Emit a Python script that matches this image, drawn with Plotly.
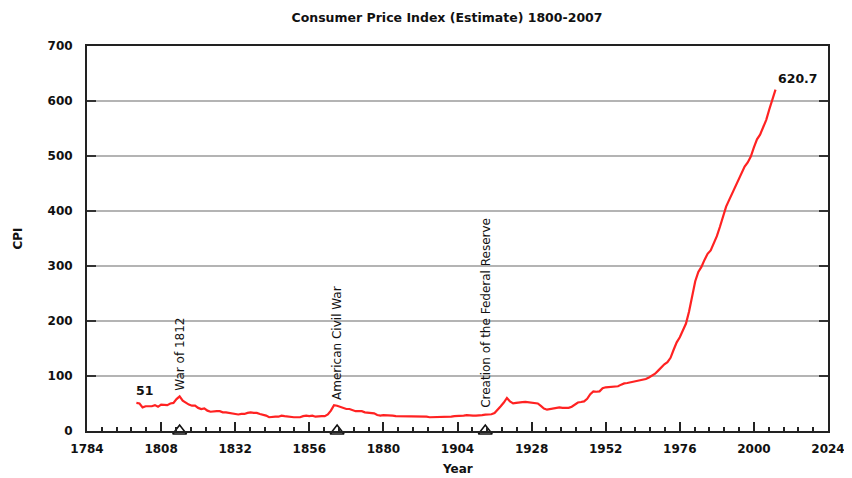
import plotly.graph_objects as go

years = list(range(1800, 2008))
cpi = [
    51, 50, 43, 45, 45, 45, 47, 44, 48, 47,
    47, 50, 51, 58, 63, 55, 51, 48, 46, 46,
    42, 40, 41, 37, 35, 36, 36, 36, 34, 34,
    33, 31, 31, 30, 31, 31, 33, 34, 33, 33,
    31, 30, 28, 25, 26, 26, 26, 28, 27, 26,
    25, 25, 25, 25, 27, 28, 27, 28, 26, 27,
    27, 27, 30, 37, 47, 46, 44, 42, 40, 40,
    38, 36, 36, 36, 34, 33, 32, 32, 29, 28,
    29, 29, 29, 28, 27, 27, 27, 27, 27, 27,
    27, 27, 27, 27, 26, 25, 25, 25, 25, 25,
    25, 25, 26, 27, 27, 27, 28, 29, 28, 28,
    28, 28, 29, 29.7, 30.1, 30.4, 32.7, 38.4, 45.1, 51.8,
    60.0, 53.6, 50.2, 51.1, 51.2, 52.5, 53.0, 52.0, 51.3, 51.3,
    50.0, 45.6, 40.9, 38.8, 40.1, 41.1, 41.5, 43.0, 42.2, 41.6,
    42.0, 44.1, 48.8, 51.8, 52.7, 53.9, 58.5, 66.9, 72.1, 71.4,
    72.1, 77.8, 79.5, 80.1, 80.5, 80.2, 81.4, 84.3, 86.6, 87.3,
    88.7, 89.6, 90.6, 91.7, 92.9, 94.5, 97.2, 100.0, 104.2, 109.8,
    116.3, 121.3, 125.3, 133.1, 147.7, 161.2, 170.5, 181.5, 195.4, 217.4,
    246.8, 272.4, 289.1, 298.4, 311.1, 322.2, 328.4, 340.4, 354.3, 371.3,
    391.4, 408.0, 420.3, 432.7, 444.0, 456.5, 469.9, 480.8, 488.3, 499.0,
    515.8, 530.4, 538.8, 551.1, 565.8, 585.0, 603.9, 620.7,
]

event_years = [1814, 1865, 1913]
event_labels = ["War of 1812", "American Civil War", "Creation of the Federal Reserve"]
event_label_base = [70, 53, 39]

x_ticks = list(range(1784, 2025, 24))
y_ticks = list(range(0, 701, 100))

FONT = "DejaVu Sans"

fig = go.Figure()
fig.add_trace(go.Scatter(
    x=years, y=cpi, mode="lines",
    line=dict(color="#ff2222", width=2.2),
    hoverinfo="x+y", showlegend=False,
))
fig.add_trace(go.Scatter(
    x=event_years, y=[0] * len(event_years), mode="markers",
    marker=dict(symbol="triangle-up-open", size=12, color="#111111",
                line=dict(width=1.6, color="#111111")),
    cliponaxis=False, showlegend=False, hoverinfo="skip",
))

for yr, lab, base in zip(event_years, event_labels, event_label_base):
    fig.add_annotation(
        x=yr, y=base, text=lab, textangle=-90, showarrow=False,
        xanchor="center", yanchor="bottom",
        font=dict(family=FONT, size=12, color="#111111"),
    )

fig.add_annotation(x=years[0], y=cpi[0], text=str(cpi[0]), showarrow=False,
                   xshift=8, yshift=12,
                   font=dict(family=FONT, size=12.5, color="#111111", weight="bold"))
fig.add_annotation(x=years[-1], y=cpi[-1], text=str(cpi[-1]), showarrow=False,
                   xshift=22, yshift=11,
                   font=dict(family=FONT, size=12.5, color="#111111", weight="bold"))

# x-axis title, placed below the tick labels
fig.add_annotation(x=0.5, xref="paper", y=-38 / 385, yref="paper", text="Year",
                   showarrow=False, xanchor="center", yanchor="middle",
                   font=dict(family=FONT, size=12, color="#111111", weight="bold"))

# the page body adds an 8px offset; margins compensate so the plot area
# lands at x 87..828 and y 46..431 in the window
fig.update_layout(
    width=852, height=478,
    margin=dict(l=79, r=32, t=38, b=55, autoexpand=False),
    paper_bgcolor="white", plot_bgcolor="white",
    title=dict(text="Consumer Price Index (Estimate) 1800-2007",
               x=439 / 852, xanchor="center", y=1 - 10 / 478, yanchor="middle",
               automargin=False,
               font=dict(family=FONT, size=12.5, color="#111111", weight="bold")),
    font=dict(family=FONT, color="#111111"),
)
fig.update_xaxes(
    range=[1784, 2024], tickvals=x_ticks, ticktext=[str(v) for v in x_ticks],
    automargin=False,
    ticks="inside", ticklen=9, tickwidth=1.5, tickcolor="#222222",
    minor=dict(dtick=4.8, tick0=1784, ticks="inside", ticklen=4, tickwidth=1.5,
               tickcolor="#222222", showgrid=False),
    showline=True, linecolor="#222222", linewidth=2, mirror=True,
    showgrid=False, zeroline=False,
    ticklabelstandoff=6,
    tickfont=dict(family=FONT, size=12, color="#111111", weight="bold"),
)
fig.update_yaxes(
    range=[0, 700], tickvals=y_ticks,
    automargin=False,
    ticks="inside", ticklen=9, tickwidth=1.5, tickcolor="#333333",
    showline=True, linecolor="#222222", linewidth=2, mirror="ticks",
    showgrid=True, gridcolor="#b4b4b4", gridwidth=1.5, zeroline=False,
    ticklabelstandoff=10,
    tickfont=dict(family=FONT, size=12, color="#111111", weight="bold"),
    title=dict(text="CPI", standoff=22,
               font=dict(family=FONT, size=12, color="#111111", weight="bold")),
)

fig.write_html("out.html")
